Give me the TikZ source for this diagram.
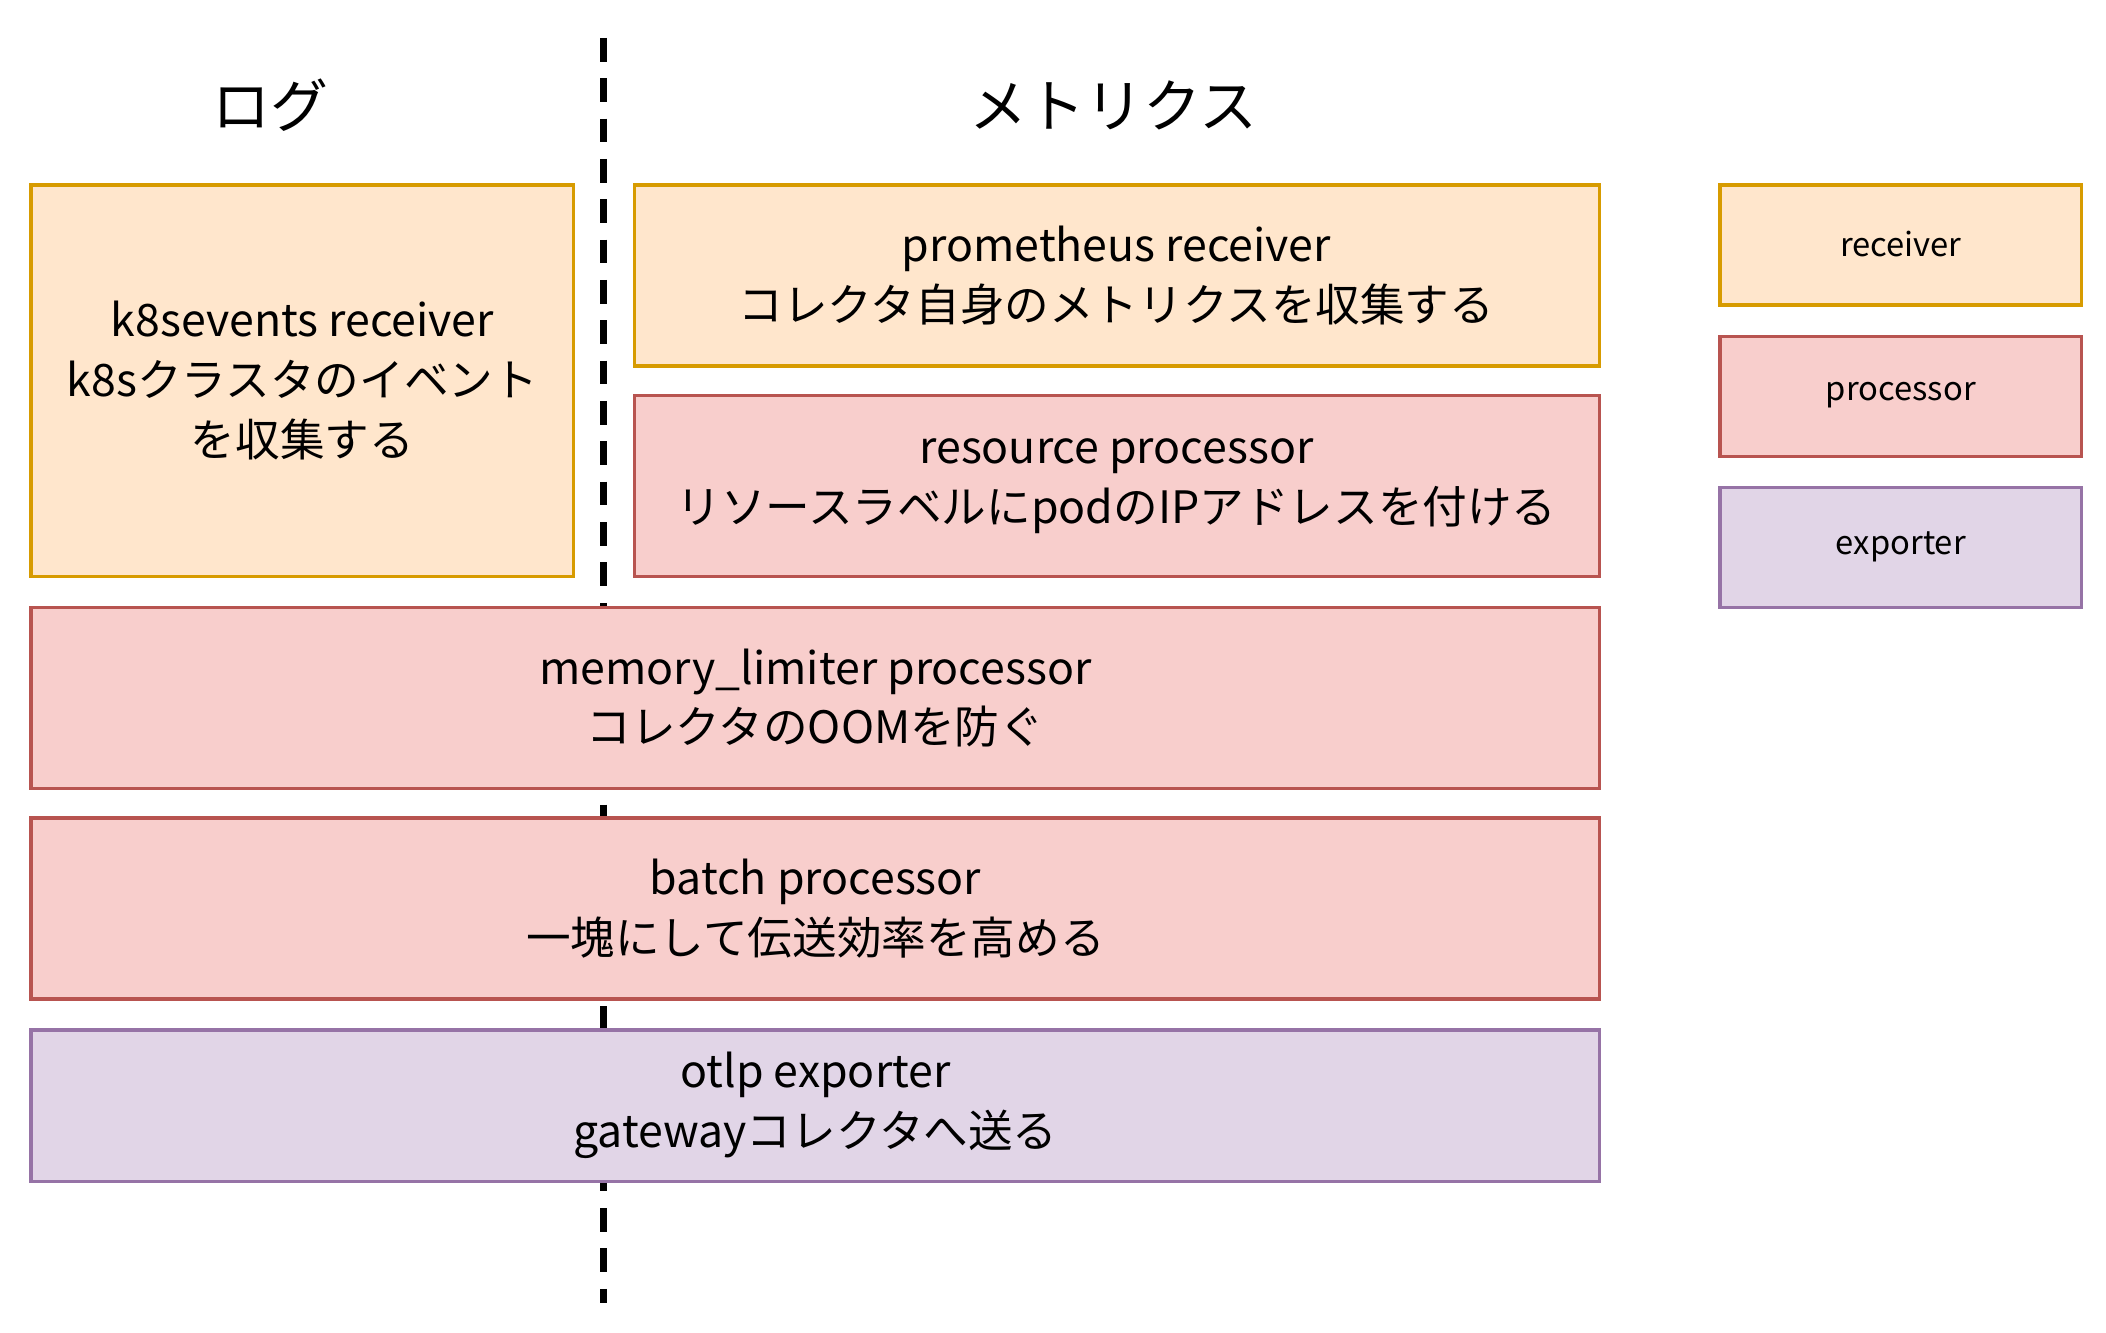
\documentclass[tikz,border=0pt]{standalone}
\usepackage{fontspec}
\setmainfont{Noto Sans CJK JP}
\begin{document}
\begin{tikzpicture}[x=0.01cm,y=-0.01cm,
 box/.style={draw,line width=0.7pt,inner sep=0pt,align=center,font=\fontsize{9.4pt}{12.6pt}\selectfont},
 rec/.style={box,fill=rcvf,draw=rcvd},
 pro/.style={box,fill=prof,draw=prod},
 exp/.style={box,fill=expf,draw=expd},
 leg/.style={font=\fontsize{6.9pt}{8pt}\selectfont},
 ttl/.style={font=\fontsize{12.2pt}{14pt}\selectfont}]
\definecolor{rcvf}{HTML}{FFE6CC}\definecolor{rcvd}{HTML}{D79B00}
\definecolor{prof}{HTML}{F8CECC}\definecolor{prod}{HTML}{B85450}
\definecolor{expf}{HTML}{E1D5E7}\definecolor{expd}{HTML}{9673A6}
\useasboundingbox (0,0) rectangle (1560,987);
\coordinate (ltop) at (447,28);
\coordinate (lbot) at (447,965);
\draw[line width=1.5pt,dash pattern=on 5pt off 3.5pt] (ltop) -- (lbot);
\node[ttl] (tlog) at (200,78) {ログ};
\node[ttl] (tmet) at (825,78) {メトリクス};
\path[rec] (23,137) rectangle (425,427);
\node[box,draw=none] (k8s) at (224,282) {k8sevents receiver\\k8sクラスタのイベント\\を収集する};
\path[rec] (470,137) rectangle (1185,271);
\node[box,draw=none] (prom) at (827,204) {prometheus receiver\\コレクタ自身のメトリクスを収集する};
\path[pro] (470,293) rectangle (1185,427);
\node[box,draw=none] (res) at (827,360) {resource processor\\リソースラベルにpodのIPアドレスを付ける};
\path[pro] (23,450) rectangle (1185,584);
\node[box,draw=none] (mem) at (604,517) {memory\_limiter processor\\コレクタのOOMを防ぐ};
\path[pro] (23,606) rectangle (1185,740);
\node[box,draw=none] (bat) at (604,673) {batch processor\\一塊にして伝送効率を高める};
\path[exp] (23,763) rectangle (1185,875);
\node[box,draw=none] (otl) at (604,819) {otlp exporter\\gatewayコレクタへ送る};
\path[rec] (1274,137) rectangle (1542,226);
\node[leg] (lr) at (1408,181) {receiver};
\path[pro] (1274,249) rectangle (1542,338);
\node[leg] (lp) at (1408,293) {processor};
\path[exp] (1274,361) rectangle (1542,450);
\node[leg] (le) at (1408,405) {exporter};
\end{tikzpicture}
\end{document}
